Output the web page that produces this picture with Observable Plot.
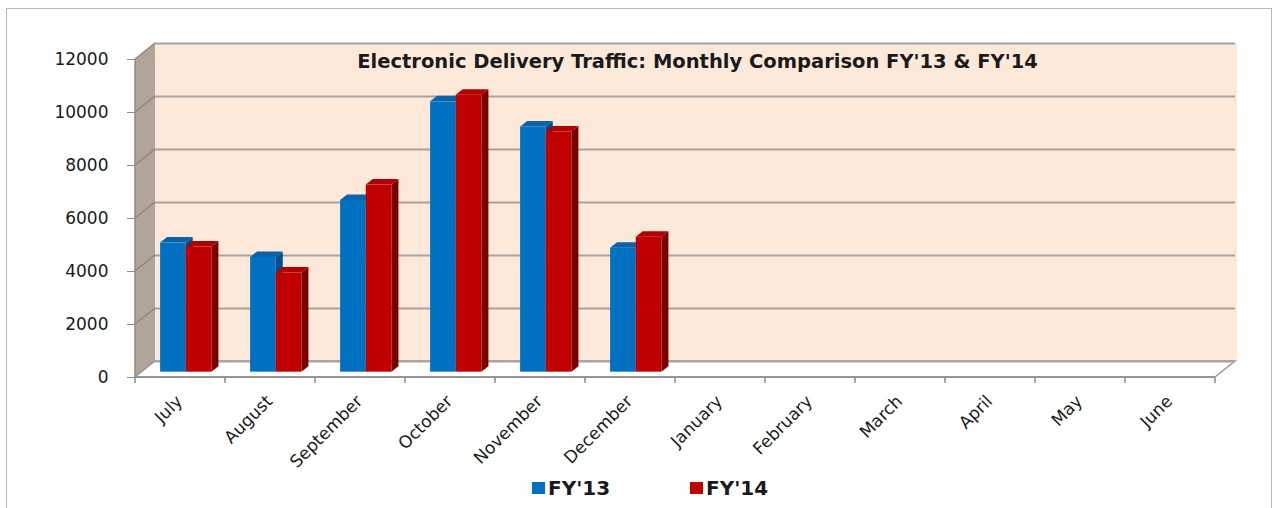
<!DOCTYPE html>
<html>
<head>
<meta charset="utf-8">
<script src="https://cdn.jsdelivr.net/npm/d3@7"></script>
<script src="https://cdn.jsdelivr.net/npm/@observablehq/plot@0.6"></script>
<style>
  body { margin: 0; background: #fff; font-family: "DejaVu Sans", sans-serif; overflow: hidden; }
  #border { position: absolute; left: 6px; top: 8px; width: 1266px; height: 520px; border: 1px solid #b8b8b8; box-sizing: border-box; }
  #chart { position: absolute; left: 0; top: 0; }
  #chart svg { overflow: visible; }
  .lg-item { position: absolute; top: 476px; display: flex; align-items: center; font-weight: bold; font-size: 20px; color: #1a1a1a; }
  .lg-sw { width: 13px; height: 12px; margin-right: 3px; }
</style>
</head>
<body>
<div id="border"></div>
<div id="chart"></div>
<script>
// ---- data ----
const months = ["July", "August", "September", "October", "November", "December",
                "January", "February", "March", "April", "May", "June"];
const fy13 = [4870, 4330, 6480, 10200, 9250, 4680, null, null, null, null, null, null];
const fy14 = [4720, 3740, 7060, 10450, 9060, 5090, null, null, null, null, null, null];
const seriesNames = ["FY'13", "FY'14"];
const yTicks = [0, 2000, 4000, 6000, 8000, 10000, 12000];
const title = "Electronic Delivery Traffic: Monthly Comparison FY'13 & FY'14";

// ---- styling ----
const frontColors = ["#0070c0", "#c00000"];
const topColors = ["#0a62ab", "#b00000"];
const sideColors = ["#004f8a", "#7a0000"];
const depthX = 20, depthY = -16;          // room depth in px
const fontFamily = "'DejaVu Sans', sans-serif";

const table = [];
months.forEach((m, i) => {
  [fy13, fy14].forEach((arr, j) => {
    if (arr[i] != null) table.push({month: m, series: seriesNames[j], s: j, value: arr[i]});
  });
});

function bw(x) { return typeof x.bandwidth === "function" ? x.bandwidth() : x.bandwidth; }

// room: back wall, left wall, floor
function room(index, scales, values, dims) {
  const {x, y} = scales;
  const x0 = dims.marginLeft, x1 = dims.width - dims.marginRight;
  const yb = y(0), yt = y(12000);
  const g = d3.create("svg:g");
  g.append("rect").attr("x", x0 + depthX).attr("y", yt + depthY)
    .attr("width", x1 - x0 + 2).attr("height", yb - yt).attr("fill", "#fde9d9");
  g.append("path")
    .attr("d", `M${x0},${yb}L${x0},${yt}L${x0 + depthX},${yt + depthY}L${x0 + depthX},${yb + depthY}Z`)
    .attr("fill", "#b0a598");
  for (const t of yTicks) {
    g.append("line").attr("x1", x0).attr("y1", y(t)).attr("x2", x0 + depthX).attr("y2", y(t) + depthY)
      .attr("stroke", "#8e8579").attr("stroke-width", 1.5);
  }
  g.append("path")
    .attr("d", `M${x0},${yb}L${x1},${yb}L${x1 + depthX},${yb + depthY}L${x0 + depthX},${yb + depthY}Z`)
    .attr("fill", "#ffffff").attr("stroke", "#9a9a9a").attr("stroke-width", 1.5);
  return g.node();
}

// front axes lines and x ticks
function frontAxes(index, scales, values, dims) {
  const {x, y} = scales;
  const x0 = dims.marginLeft, x1 = dims.width - dims.marginRight;
  const yb = y(0), yt = y(12000);
  const g = d3.create("svg:g").attr("stroke", "#8c8c8c").attr("stroke-width", 1.5);
  g.append("line").attr("x1", x0).attr("x2", x0).attr("y1", yb).attr("y2", yt);
  g.append("line").attr("x1", x0).attr("x2", x1).attr("y1", yb).attr("y2", yb);
  const edges = months.map(m => x(m)).concat([x(months[months.length - 1]) + bw(x)]);
  for (const e of edges) g.append("line").attr("x1", e).attr("x2", e).attr("y1", yb).attr("y2", yb + 6);
  return g.node();
}

// 3D bars
function bars3d(index, scales, values, dims) {
  const {x, y} = scales;
  const w = bw(x);
  const ox = depthX / 3, oy = depthY / 3;   // bars sit one third into the room
  const bdx = 7, bdy = -5.5;                 // bar depth
  const g = d3.create("svg:g");
  for (const d of table) {
    const left = x(d.month) + w * (0.205 + d.s * 0.285) + ox;
    const right = left + w * 0.285;
    const top = y(d.value) + oy, bottom = y(0) + oy;
    g.append("path").attr("fill", sideColors[d.s])
      .attr("d", `M${right},${top}L${right + bdx},${top + bdy}L${right + bdx},${bottom + bdy}L${right},${bottom}Z`);
    g.append("path").attr("fill", topColors[d.s])
      .attr("d", `M${left},${top}L${left + bdx},${top + bdy}L${right + bdx},${top + bdy}L${right},${top}Z`);
    g.append("rect").attr("fill", frontColors[d.s])
      .attr("x", left).attr("y", top).attr("width", right - left).attr("height", bottom - top);
  }
  return g.node();
}

const chart = Plot.plot({
  width: 1275,
  height: 508,
  marginLeft: 135,
  marginRight: 60,
  marginTop: 59,
  marginBottom: 131,
  style: {fontFamily, background: "transparent", color: "#1a1a1a"},
  x: {type: "band", domain: months, padding: 0, label: null},
  y: {domain: [0, 12000], label: null},
  marks: [
    room,
    Plot.ruleY(yTicks, {stroke: "#a3a3a3", strokeWidth: 2, dx: depthX, dy: depthY}),
    Plot.text([title], {frameAnchor: "top", dx: 22, dy: -5, fontWeight: "bold", fontSize: 19.5, fill: "#1a1a1a"}),
    bars3d,
    frontAxes,
    Plot.axisY({ticks: yTicks, tickFormat: d => String(d), tickSize: 8, tickPadding: 19, fontSize: 17, stroke: "#8c8c8c", label: null}),
    Plot.axisX({tickRotate: -45, tickSize: 0, tickPadding: 21, dx: -1, fontSize: 17, label: null})
  ]
});
document.getElementById("chart").appendChild(chart);

// legend (HTML, overlaid below the plotting area)
const legendLeft = [532, 690];
seriesNames.forEach((name, j) => {
  const item = document.createElement("div");
  item.className = "lg-item";
  item.style.left = legendLeft[j] + "px";
  const sw = document.createElement("span");
  sw.className = "lg-sw";
  sw.style.background = frontColors[j];
  const tx = document.createElement("span");
  tx.textContent = name;
  item.appendChild(sw); item.appendChild(tx);
  document.body.appendChild(item);
});
</script>
</body>
</html>
